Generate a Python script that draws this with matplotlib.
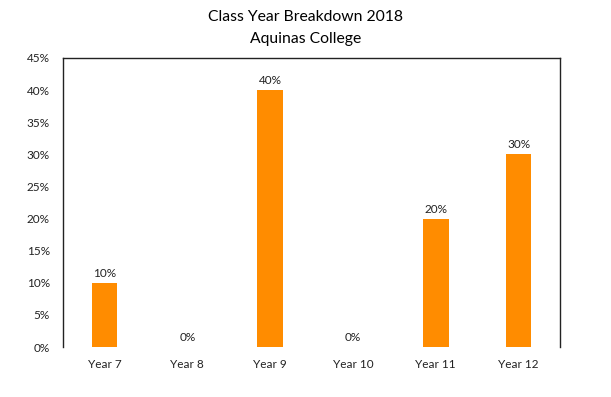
import matplotlib.pyplot as plt
from matplotlib.ticker import FuncFormatter

years = ['Year 7', 'Year 8', 'Year 9', 'Year 10', 'Year 11', 'Year 12']
shares = [0.10, 0.00, 0.40, 0.00, 0.20, 0.30]
labels = ['10%', '0%', '40%', '0%', '20%', '30%']

plt.rcParams['font.family'] = ['Lato', 'DejaVu Sans']

fig = plt.figure(figsize=(6.11, 3.97), dpi=100)
ax = fig.add_axes([63 / 611, 50 / 397, 497 / 611, 289 / 397])

x = range(len(years))
bars = ax.bar(x, shares, width=0.31, color='#FF8C00')
for b, lab in zip(bars, labels):
    ax.text(b.get_x() + b.get_width() / 2, b.get_height() + 0.006, lab,
            ha='center', va='bottom', fontsize=8.5, color='#222222')

ax.set_xlim(-0.5, len(years) - 0.5)
ax.set_ylim(0, 0.45)
ax.set_yticks([i * 0.05 for i in range(10)])
ax.yaxis.set_major_formatter(FuncFormatter(lambda v, p: '%d%%' % round(v * 100)))
ax.set_xticks(list(x))
ax.set_xticklabels(years)
ax.tick_params(axis='both', length=0, labelsize=8.5, colors='#222222')
ax.tick_params(axis='x', pad=8.5)
ax.tick_params(axis='y', pad=9.5)
ax.spines['bottom'].set_visible(False)
for s in ['left', 'top', 'right']:
    ax.spines[s].set_linewidth(1.0)
    ax.spines[s].set_color('#222222')

fig.text(0.5, 1 - 17 / 397, 'Class Year Breakdown 2018', ha='center', va='center', fontsize=11.3)
fig.text(0.5, 1 - 39 / 397, 'Aquinas College', ha='center', va='center', fontsize=11.3)

fig.savefig('out.png', dpi=100)
